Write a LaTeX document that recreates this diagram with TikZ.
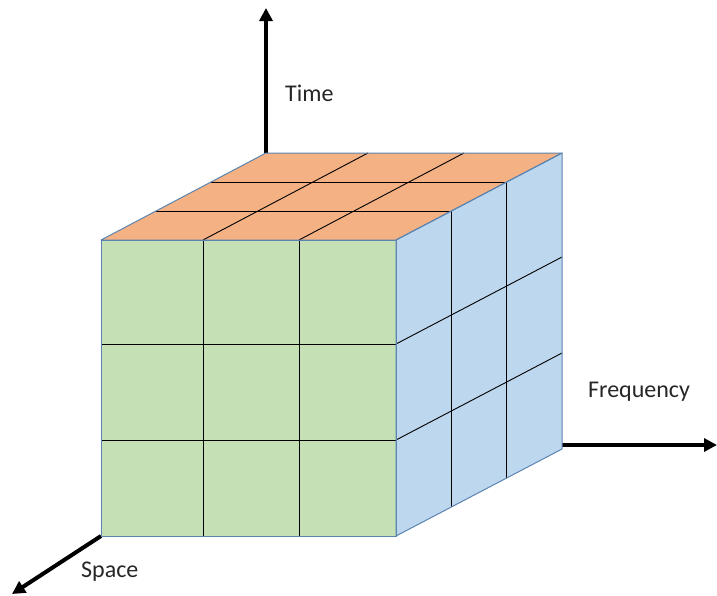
\documentclass[tikz,border=0pt]{standalone}
\usepackage{fontspec}
\setmainfont{Carlito}
\usetikzlibrary{arrows.meta,calc}
\definecolor{topc}{HTML}{F4B183}
\definecolor{frontc}{HTML}{C5E0B4}
\definecolor{sidec}{HTML}{BDD7EE}
\definecolor{edgec}{HTML}{5B84B1}
\begin{document}
\begin{tikzpicture}[x=1pt,y=-1pt,
  face/.style={draw=edgec,line width=1pt,line join=round},
  grid/.style={draw=black,line width=0.9pt},
  axis/.style={draw=black,line width=4pt,-{Triangle[length=13pt,width=13pt]}},
  lbl/.style={font=\fontsize{24}{28}\selectfont,text=black!85,inner sep=0pt,anchor=base west}]
\useasboundingbox (0,0) rectangle (717,595);
% cube corners
\coordinate (A) at (101,240);
\coordinate (B) at (396,240);
\coordinate (C) at (396,536);
\coordinate (D) at (101,536);
\coordinate (E) at (266,153);
\coordinate (F) at (562,153);
\coordinate (G) at (562,449);
% axes
\coordinate (Ttip) at (266,8);
\coordinate (Ftip) at (717,445);
\coordinate (Fst) at (562,445);
\coordinate (Stip) at (12,594);
\draw[axis] (E) -- (Ttip);
\draw[axis] (Fst) -- (Ftip);
\draw[axis] (D) -- (Stip);
% faces
\fill[topc] (A) -- (B) -- (F) -- (E) -- cycle;
\fill[frontc] (A) -- (B) -- (C) -- (D) -- cycle;
\fill[sidec] (B) -- (F) -- (G) -- (C) -- cycle;
% front grid
\foreach \x in {203,299} \draw[grid] (\x,240) -- (\x,536);
\foreach \y in {344,440} \draw[grid] (101,\y) -- (396,\y);
% top grid
\foreach \x in {203,299} \draw[grid] (\x,240) -- ++(165,-87);
\foreach \f in {0.333,0.667} \draw[grid] ($(A)!\f!(E)$) -- ($(B)!\f!(F)$);
% side grid
\foreach \f in {0.333,0.667} \draw[grid] ($(B)!\f!(F)$) -- ($(C)!\f!(G)$);
\foreach \y in {344,440} \draw[grid] (396,\y) -- ++(166,-87);
% outlines
\draw[face] (A) -- (B) -- (F) -- (E) -- cycle;
\draw[face] (A) -- (B) -- (C) -- (D) -- cycle;
\draw[face] (B) -- (F) -- (G) -- (C) -- cycle;
% labels
\node[lbl] (tl) at (285,101) {Time};
\node[lbl] (fl) at (588,397) {Frequency};
\node[lbl] (sl) at (81,577) {Space};
\end{tikzpicture}
\end{document}
